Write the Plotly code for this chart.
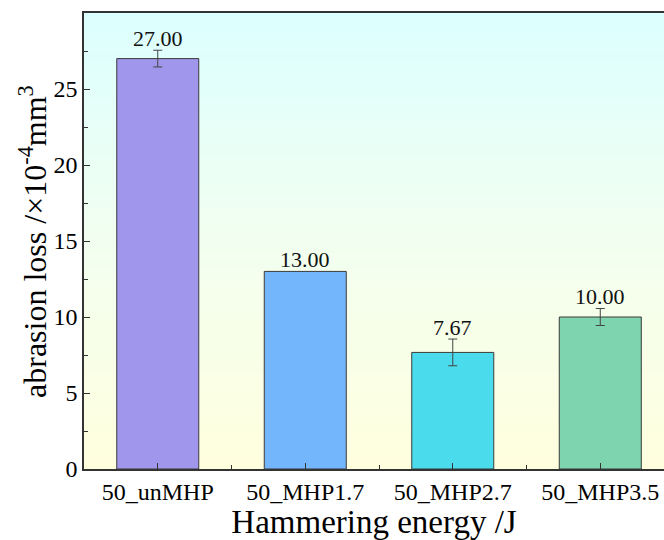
import plotly.graph_objects as go

# Abrasion loss per hammering treatment
categories = ["50_unMHP", "50_MHP1.7", "50_MHP2.7", "50_MHP3.5"]
abrasion_loss = [27.00, 13.00, 7.67, 10.00]
loss_error = [0.55, 0.0, 0.88, 0.56]
bar_colors = ["#a096eb", "#74b6fc", "#4adcec", "#7fd4b0"]
y_ticks = [0, 5, 10, 15, 20, 25]

FONT = "Liberation Serif, Times New Roman, serif"
xpos = list(range(len(categories)))

fig = go.Figure()
fig.add_trace(go.Bar(
    x=xpos,
    y=abrasion_loss,
    width=0.556,
    marker=dict(color=bar_colors, line=dict(color="#3a3a3a", width=1)),
    showlegend=False,
    hoverinfo="x+y",
))

# error bars only where the spread is non-zero
err_idx = [i for i, e in enumerate(loss_error) if e > 0]
fig.add_trace(go.Scatter(
    x=[xpos[i] for i in err_idx],
    y=[abrasion_loss[i] for i in err_idx],
    mode="markers",
    marker=dict(size=1, opacity=0),
    error_y=dict(type="data", array=[loss_error[i] for i in err_idx],
                 visible=True, color="#444444", thickness=1, width=4.5),
    showlegend=False,
    hoverinfo="skip",
))

# value labels above each bar / error bar
for xi, v, e in zip(xpos, abrasion_loss, loss_error):
    fig.add_annotation(x=xi, y=v + e, text=f"{v:.2f}", showarrow=False,
                       yanchor="bottom", yshift=-3,
                       font=dict(family=FONT, size=22, color="#111111"))

# vertical cyan-to-yellow background gradient in the plotting area
top_rgb = (220, 255, 255)
mid_rgb = (242, 255, 240)
bot_rgb = (255, 255, 222)
n_bands = 80
for i in range(n_bands):
    t = (i + 0.5) / n_bands  # 0 at bottom, 1 at top
    if t < 0.5:
        a, b, f = bot_rgb, mid_rgb, t / 0.5
    else:
        a, b, f = mid_rgb, top_rgb, (t - 0.5) / 0.5
    c = tuple(round(a[k] + (b[k] - a[k]) * f) for k in range(3))
    fig.add_shape(type="rect", xref="x domain", yref="y domain",
                  x0=0, x1=1, y0=i / n_bands, y1=(i + 1) / n_bands + 0.002,
                  fillcolor=f"rgb{c}", line=dict(width=0), layer="below")

# y-axis title placed as a rotated annotation
fig.add_annotation(
    text="abrasion loss /×10<sup>-4</sup>mm<sup>3</sup>",
    xref="paper", yref="paper", x=-0.088, y=0.5,
    xanchor="center", yanchor="middle", textangle=-90, showarrow=False,
    font=dict(family=FONT, size=32, color="#000000"),
)

fig.update_layout(
    width=664, height=540,
    margin=dict(l=84, r=0, t=13, b=71),
    paper_bgcolor="white",
    plot_bgcolor="rgba(0,0,0,0)",
    font=dict(family=FONT, color="#000000"),
)

fig.update_xaxes(
    range=[-0.5, 3.432],
    tickmode="array", tickvals=xpos, ticktext=categories,
    ticks="inside", ticklen=6, tickwidth=1.2, tickcolor="#333333",
    minor=dict(tickmode="array", tickvals=[0.5, 1.5, 2.5],
               ticks="inside", ticklen=4, tickwidth=1.2, tickcolor="#333333"),
    showline=True, linecolor="#333333", linewidth=1.5, mirror=True,
    showgrid=False, zeroline=False,
    tickfont=dict(family=FONT, size=24),
    title=dict(text="Hammering energy /J", font=dict(family=FONT, size=33),
               standoff=6),
)

fig.update_yaxes(
    range=[0, 30],
    tickmode="array", tickvals=y_ticks,
    ticks="inside", ticklen=6, tickwidth=1.2, tickcolor="#333333",
    minor=dict(dtick=2.5, ticks="inside", ticklen=4, tickwidth=1.2,
               tickcolor="#333333"),
    showline=True, linecolor="#333333", linewidth=1.5,
    showgrid=False, zeroline=False,
    tickfont=dict(family=FONT, size=24),
)

fig.write_html("out.html")
